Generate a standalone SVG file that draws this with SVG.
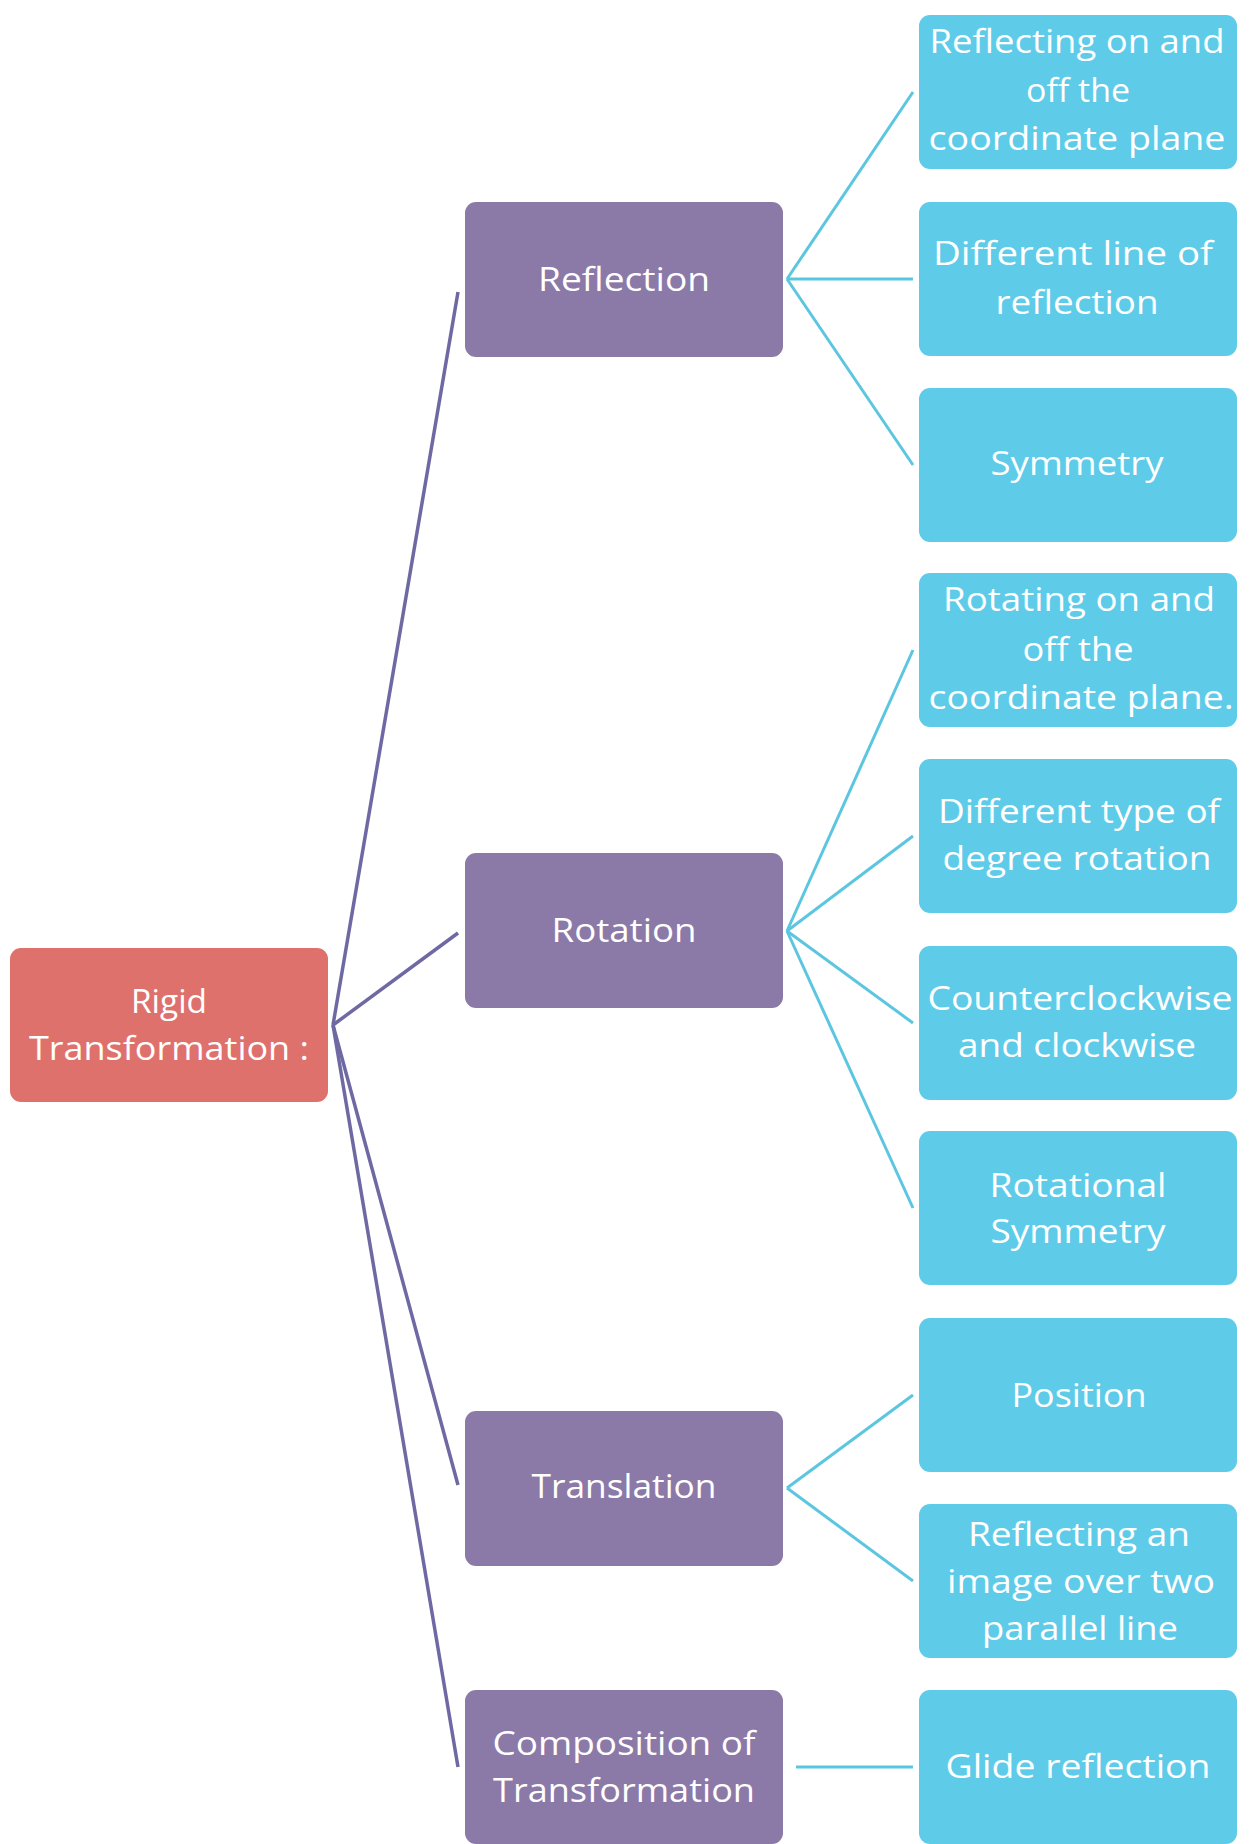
<svg xmlns="http://www.w3.org/2000/svg" width="1249" height="1844" viewBox="0 0 1249 1844">
<style>
.root{fill:#df716c}
.mid{fill:#8b79a8}
.leaf{fill:#5ecbe9}
text{font-family:"Open Sans","Liberation Sans",sans-serif;font-size:33px;fill:#ffffff;text-anchor:middle}
.pl{stroke:#6f69a3;stroke-width:3.5;fill:none}
.cl{stroke:#5cc6e0;stroke-width:3;fill:none}
</style>
<rect width="1249" height="1844" fill="#ffffff"/>
<g id="connectors">
<line class="pl" x1="333" y1="1025" x2="458" y2="292"/>
<line class="pl" x1="333" y1="1025" x2="458" y2="933"/>
<line class="pl" x1="333" y1="1025" x2="458" y2="1485"/>
<line class="pl" x1="333" y1="1025" x2="458" y2="1767"/>
<line class="cl" x1="787" y1="279" x2="913" y2="92"/>
<line class="cl" x1="787" y1="279" x2="913" y2="279"/>
<line class="cl" x1="787" y1="279" x2="913" y2="465"/>
<line class="cl" x1="787" y1="931" x2="913" y2="650"/>
<line class="cl" x1="787" y1="931" x2="913" y2="836"/>
<line class="cl" x1="787" y1="931" x2="913" y2="1023"/>
<line class="cl" x1="787" y1="931" x2="913" y2="1208"/>
<line class="cl" x1="787" y1="1488" x2="913" y2="1395"/>
<line class="cl" x1="787" y1="1488" x2="913" y2="1581"/>
<line class="cl" x1="796" y1="1767" x2="913" y2="1767"/>
</g>
<g id="root">
<rect class="root" x="10" y="948" width="318" height="154" rx="11"/>
<text x="169" y="1013" textLength="76" lengthAdjust="spacingAndGlyphs">Rigid</text>
<text x="169" y="1060" textLength="280" lengthAdjust="spacingAndGlyphs">Transformation :</text>
</g>
<g id="reflection">
<rect class="mid" x="465" y="202" width="318" height="155" rx="11"/>
<text x="624" y="291" textLength="172" lengthAdjust="spacingAndGlyphs">Reflection</text>
</g>
<g id="rotation">
<rect class="mid" x="465" y="853" width="318" height="155" rx="11"/>
<text x="624" y="942" textLength="145" lengthAdjust="spacingAndGlyphs">Rotation</text>
</g>
<g id="translation">
<rect class="mid" x="465" y="1411" width="318" height="155" rx="11"/>
<text x="624" y="1498" textLength="185" lengthAdjust="spacingAndGlyphs">Translation</text>
</g>
<g id="composition">
<rect class="mid" x="465" y="1690" width="318" height="154" rx="11"/>
<text x="624" y="1755" textLength="263" lengthAdjust="spacingAndGlyphs">Composition of</text>
<text x="624" y="1802" textLength="262" lengthAdjust="spacingAndGlyphs">Transformation</text>
</g>
<g id="leaf-reflecting-plane">
<rect class="leaf" x="919" y="15" width="318" height="154" rx="11"/>
<text x="1077" y="53" textLength="295" lengthAdjust="spacingAndGlyphs">Reflecting on and</text>
<text x="1078" y="102" textLength="104" lengthAdjust="spacingAndGlyphs">off the</text>
<text x="1077" y="150" textLength="297" lengthAdjust="spacingAndGlyphs">coordinate plane</text>
</g>
<g id="leaf-line-of-reflection">
<rect class="leaf" x="919" y="202" width="318" height="154" rx="11"/>
<text x="1073" y="265" textLength="280" lengthAdjust="spacingAndGlyphs">Different line of</text>
<text x="1077" y="314" textLength="163" lengthAdjust="spacingAndGlyphs">reflection</text>
</g>
<g id="leaf-symmetry">
<rect class="leaf" x="919" y="388" width="318" height="154" rx="11"/>
<text x="1077" y="475" textLength="173" lengthAdjust="spacingAndGlyphs">Symmetry</text>
</g>
<g id="leaf-rotating-plane">
<rect class="leaf" x="919" y="573" width="318" height="154" rx="11"/>
<text x="1079" y="611" textLength="272" lengthAdjust="spacingAndGlyphs">Rotating on and</text>
<text x="1078" y="661" textLength="111" lengthAdjust="spacingAndGlyphs">off the</text>
<text x="1081" y="709" textLength="305" lengthAdjust="spacingAndGlyphs">coordinate plane.</text>
</g>
<g id="leaf-degree-rotation">
<rect class="leaf" x="919" y="759" width="318" height="154" rx="11"/>
<text x="1079" y="823" textLength="282" lengthAdjust="spacingAndGlyphs">Different type of</text>
<text x="1077" y="870" textLength="269" lengthAdjust="spacingAndGlyphs">degree rotation</text>
</g>
<g id="leaf-clockwise">
<rect class="leaf" x="919" y="946" width="318" height="154" rx="11"/>
<text x="1080" y="1010" textLength="305" lengthAdjust="spacingAndGlyphs">Counterclockwise</text>
<text x="1077" y="1057" textLength="238" lengthAdjust="spacingAndGlyphs">and clockwise</text>
</g>
<g id="leaf-rotational-symmetry">
<rect class="leaf" x="919" y="1131" width="318" height="154" rx="11"/>
<text x="1078" y="1197" textLength="177" lengthAdjust="spacingAndGlyphs">Rotational</text>
<text x="1078" y="1243" textLength="175" lengthAdjust="spacingAndGlyphs">Symmetry</text>
</g>
<g id="leaf-position">
<rect class="leaf" x="919" y="1318" width="318" height="154" rx="11"/>
<text x="1079" y="1407" textLength="135" lengthAdjust="spacingAndGlyphs">Position</text>
</g>
<g id="leaf-parallel-lines">
<rect class="leaf" x="919" y="1504" width="318" height="154" rx="11"/>
<text x="1079" y="1546" textLength="222" lengthAdjust="spacingAndGlyphs">Reflecting an</text>
<text x="1081" y="1593" textLength="268" lengthAdjust="spacingAndGlyphs">image over two</text>
<text x="1080" y="1640" textLength="196" lengthAdjust="spacingAndGlyphs">parallel line</text>
</g>
<g id="leaf-glide-reflection">
<rect class="leaf" x="919" y="1690" width="318" height="154" rx="11"/>
<text x="1078" y="1778" textLength="265" lengthAdjust="spacingAndGlyphs">Glide reflection</text>
</g>
</svg>
